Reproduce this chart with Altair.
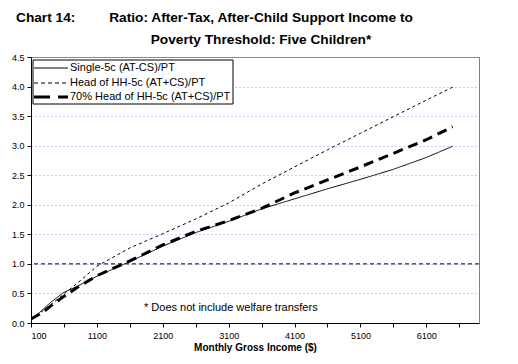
import altair as alt
import pandas as pd

FONT = "Liberation Sans"

income = [100, 200, 300, 400, 600, 800, 1100, 1600, 2100, 2600, 3100, 3600, 4100, 4600, 5100, 5600, 6100, 6500]
single = [0.07, 0.15, 0.25, 0.35, 0.52, 0.62, 0.79, 1.04, 1.30, 1.53, 1.72, 1.93, 2.10, 2.27, 2.43, 2.60, 2.80, 2.99]
head_hh = [0.07, 0.14, 0.22, 0.31, 0.49, 0.67, 0.96, 1.27, 1.51, 1.76, 2.03, 2.35, 2.64, 2.93, 3.21, 3.49, 3.77, 3.99]
head70 = [0.07, 0.13, 0.20, 0.29, 0.45, 0.60, 0.80, 1.05, 1.32, 1.55, 1.73, 1.94, 2.20, 2.42, 2.64, 2.87, 3.10, 3.32]

series_names = ["Single-5c (AT-CS)/PT", "Head of HH-5c (AT+CS)/PT", "70% Head of HH-5c (AT+CS)/PT"]
series_values = [single, head_hh, head70]
series_dash = [[1, 0], [3, 3], [10, 6]]
legend_dash = [[1, 0], [4, 3], [16, 8]]
series_width = [1, 1, 3]

x_ticks = [100 + 500 * i for i in range(14)]
y_ticks = [0.5 * i for i in range(10)]

xscale = alt.Scale(domain=[100, 6900], nice=False, zero=False)
yscale = alt.Scale(domain=[0, 4.5], nice=False)

x_axis = alt.Axis(values=x_ticks,
                  labelExpr="(datum.value - 100) % 1000 == 0 ? datum.value : ''",
                  labelOverlap=False,
                  title="Monthly Gross Income ($)", grid=False,
                  domainColor="black", tickColor="black", tickSize=4,
                  labelFontSize=9, labelColor="black", labelPadding=4,
                  titleFontSize=10, titleFontWeight="bold", titlePadding=2,
                  titleColor="black")
y_axis = alt.Axis(values=y_ticks, format=".1f", title=None, labelOverlap=False,
                  grid=True, gridColor="#c080ff", gridDash=[1, 3],
                  domainColor="black", tickColor="black", tickSize=4,
                  labelFontSize=9, labelColor="black", labelPadding=3)

layers = []
for i, (name, vals) in enumerate(zip(series_names, series_values)):
    d = pd.DataFrame({"income": income, "ratio": vals, "series": name})
    layers.append(
        alt.Chart(d).mark_line(color="black", strokeDash=series_dash[i],
                               strokeWidth=series_width[i], clip=True).encode(
            x=alt.X("income:Q", scale=xscale, axis=x_axis),
            y=alt.Y("ratio:Q", scale=yscale, axis=y_axis),
        )
    )

one_line = alt.Chart(pd.DataFrame({"y": [1.0]})).mark_rule(
    color="black", strokeDash=[4, 3], strokeWidth=1).encode(
    y=alt.Y("y:Q", scale=yscale, axis=y_axis))

# legend (manual, boxed)
legend_box = alt.Chart().mark_rect(fill="white", stroke="black", strokeWidth=1).encode(
    x=alt.value(2), x2=alt.value(202), y=alt.value(3), y2=alt.value(47))
legend_rows_y = [11, 26, 40]
legend_layers = [legend_box]
for i, name in enumerate(series_names):
    legend_layers.append(
        alt.Chart().mark_rule(color="black", strokeDash=legend_dash[i],
                              strokeWidth=series_width[i]).encode(
            x=alt.value(3), x2=alt.value(37), y=alt.value(legend_rows_y[i])))
    legend_layers.append(
        alt.Chart().mark_text(text=name, align="left", baseline="middle", font=FONT,
                              fontSize=11, color="black").encode(
            x=alt.value(39), y=alt.value(legend_rows_y[i])))

note = alt.Chart().mark_text(text="* Does not include welfare transfers", align="left",
                             baseline="middle", font=FONT, fontSize=11, color="black").encode(
    x=alt.value(113), y=alt.value(251))

chart_label = alt.Chart().mark_text(text="Chart 14:", align="left", baseline="middle",
                                    font=FONT, fontSize=13.7, fontWeight="bold", color="black").encode(
    x=alt.value(-15), y=alt.value(-39))
title1 = alt.Chart().mark_text(text="Ratio: After-Tax, After-Child Support Income to",
                               align="center", baseline="middle", font=FONT, fontSize=13.7,
                               fontWeight="bold", color="black").encode(
    x=alt.value(230), y=alt.value(-39))
title2 = alt.Chart().mark_text(text="Poverty Threshold: Five Children*",
                               align="center", baseline="middle", font=FONT, fontSize=13.7,
                               fontWeight="bold", color="black").encode(
    x=alt.value(230), y=alt.value(-17))

chart = alt.layer(*layers, one_line, note, *legend_layers, chart_label, title1, title2).properties(
    width=448, height=266,
    autosize=alt.AutoSizeParams(type="none"),
    padding={"left": 23, "top": 49, "right": 20, "bottom": 40},
    background="white",
).configure_view(stroke="#808080", strokeWidth=1).configure_axis(
    labelFont=FONT, titleFont=FONT
)

chart.save("out.html", embed_options={"renderer": "svg", "actions": False})
